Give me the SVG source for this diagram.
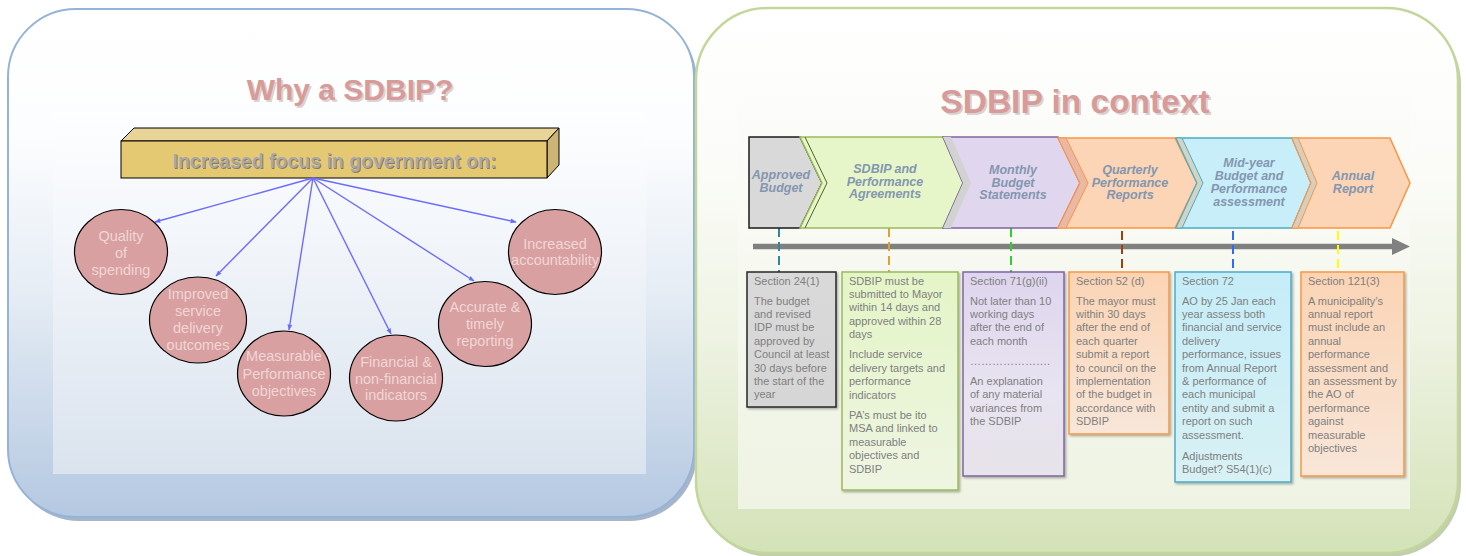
<svg xmlns="http://www.w3.org/2000/svg" width="1466" height="556" viewBox="0 0 1466 556">
<defs>
<linearGradient id="gLP" x1="0" y1="0" x2="0" y2="1"><stop offset="0" stop-color="#ffffff"/><stop offset="0.25" stop-color="#fcfdfe"/><stop offset="0.55" stop-color="#e6edf5"/><stop offset="1" stop-color="#b4c8e1"/></linearGradient>
<linearGradient id="gLI" x1="0" y1="0" x2="0" y2="1"><stop offset="0" stop-color="#fdfeff"/><stop offset="0.3" stop-color="#f4f7fb"/><stop offset="1" stop-color="#dae3ee"/></linearGradient>
<linearGradient id="gRP" x1="0" y1="0" x2="0" y2="1"><stop offset="0" stop-color="#ffffff"/><stop offset="0.3" stop-color="#fbfcf8"/><stop offset="0.6" stop-color="#eef3e3"/><stop offset="1" stop-color="#d4e2b7"/></linearGradient>
<linearGradient id="gRI" x1="0" y1="0" x2="0" y2="1"><stop offset="0" stop-color="#fcfdfa" stop-opacity="0"/><stop offset="0.15" stop-color="#fbfcf8"/><stop offset="1" stop-color="#eef3e3"/></linearGradient>
<linearGradient id="gB1" x1="0" y1="0" x2="0" y2="1"><stop offset="0" stop-color="#d9d9d9"/><stop offset="1" stop-color="#d6d6d6"/></linearGradient>
<linearGradient id="gB2" x1="0" y1="0" x2="0" y2="1"><stop offset="0" stop-color="#e4f5c6"/><stop offset="1" stop-color="#eef5e2"/></linearGradient>
<linearGradient id="gB3" x1="0" y1="0" x2="0" y2="1"><stop offset="0" stop-color="#ded5ee"/><stop offset="0.6" stop-color="#e8e4f0"/><stop offset="1" stop-color="#e6e3ea"/></linearGradient>
<linearGradient id="gB4" x1="0" y1="0" x2="0" y2="1"><stop offset="0" stop-color="#fbd4b4"/><stop offset="1" stop-color="#f8e6d8"/></linearGradient>
<linearGradient id="gB5" x1="0" y1="0" x2="0" y2="1"><stop offset="0" stop-color="#c5edf8"/><stop offset="1" stop-color="#d8f1f4"/></linearGradient>
<filter id="sh" x="-10%" y="-10%" width="130%" height="130%"><feDropShadow dx="1.5" dy="1.5" stdDeviation="1" flood-color="#000" flood-opacity="0.3"/></filter>
<marker id="ah" viewBox="0 0 10 10" refX="9" refY="5" markerWidth="6" markerHeight="6" orient="auto" markerUnits="userSpaceOnUse"><path d="M0,1 L10,5 L0,9 z" fill="#6b6bff"/></marker>
<style>
.ell{fill:#d8a0a0;stroke:#000;stroke-width:1.2}
.ct{font-family:"Liberation Sans",Arial,sans-serif;font-size:14.5px;fill:#f0d6d6;text-anchor:middle}
.arr{stroke:#6b6bff;stroke-width:1.4;fill:none;marker-end:url(#ah)}
.title{font-family:"Liberation Sans",Arial,sans-serif;font-weight:bold;fill:#d79b99;text-anchor:middle}
.tsh{font-family:"Liberation Sans",Arial,sans-serif;font-weight:bold;fill:#b0a0a0;opacity:0.45;text-anchor:middle}
.cv{font-family:"Liberation Sans",Arial,sans-serif;font-weight:bold;font-style:italic;font-size:12.5px;fill:#8496b0;text-anchor:middle}
.bt{font-family:"Liberation Sans",Arial,sans-serif;font-size:11px;fill:#7f7f7f}
.dash{stroke-width:2;stroke-dasharray:9 5;fill:none}
</style>
</defs>

<!-- Left panel -->
<g id="left-panel">
<rect x="11" y="13" width="686" height="508" rx="68" fill="#8195b0" opacity="0.7"/>
<rect x="8" y="9" width="686" height="508" rx="68" fill="url(#gLP)" stroke="#95b3d7" stroke-width="2"/>
<rect x="53" y="112" width="593" height="362" fill="url(#gLI)"/>
<text class="tsh" x="352" y="102" font-size="30">Why a SDBIP?</text>
<text class="title" x="350" y="100" font-size="30">Why a SDBIP?</text>
</g>

<g id="focus-bar">
<polygon points="121,141 134,128 559,128 547,141" fill="#e8d496" stroke="#000" stroke-width="1"/>
<polygon points="547,141 559,128 559,165 547,178" fill="#ccb574" stroke="#000" stroke-width="1"/>
<rect x="121" y="141" width="426" height="37" fill="#e5c872" stroke="#000" stroke-width="1"/>
<text x="335.5" y="168.5" text-anchor="middle" font-family="Liberation Sans, Arial, sans-serif" font-weight="bold" font-size="19.5" fill="#4a4a4a" opacity="0.6">Increased focus in government on:</text>
<text x="334.5" y="167.5" text-anchor="middle" font-family="Liberation Sans, Arial, sans-serif" font-weight="bold" font-size="19.5" fill="#a8a8a8">Increased focus in government on:</text>
</g>

<g id="connectors-left">
<line class="arr" x1="313" y1="178" x2="155" y2="222"/>
<line class="arr" x1="313" y1="178" x2="216" y2="276"/>
<line class="arr" x1="313" y1="178" x2="289" y2="330"/>
<line class="arr" x1="313" y1="178" x2="391" y2="334"/>
<line class="arr" x1="313" y1="178" x2="474" y2="281"/>
<line class="arr" x1="313" y1="178" x2="516" y2="222"/>
</g>

<g id="n-quality"><ellipse class="ell" cx="121" cy="252" rx="46.5" ry="42.5"/>
<text class="ct" x="121" y="241">Quality</text><text class="ct" x="121" y="258">of</text><text class="ct" x="121" y="275">spending</text></g>
<g id="n-improved"><ellipse class="ell" cx="198" cy="320" rx="48.5" ry="43"/>
<text class="ct" x="198" y="299">Improved</text><text class="ct" x="198" y="316">service</text><text class="ct" x="198" y="333">delivery</text><text class="ct" x="198" y="350">outcomes</text></g>
<g id="n-measurable"><ellipse class="ell" cx="284" cy="373.5" rx="46.5" ry="42.5"/>
<text class="ct" x="284" y="361">Measurable</text><text class="ct" x="284" y="379">Performance</text><text class="ct" x="284" y="396">objectives</text></g>
<g id="n-financial"><ellipse class="ell" cx="396" cy="378" rx="46.5" ry="43"/>
<text class="ct" x="396" y="367">Financial &amp;</text><text class="ct" x="396" y="384">non-financial</text><text class="ct" x="396" y="400">indicators</text></g>
<g id="n-accurate"><ellipse class="ell" cx="485" cy="324" rx="46.5" ry="42.5"/>
<text class="ct" x="485" y="312">Accurate &amp;</text><text class="ct" x="485" y="329">timely</text><text class="ct" x="485" y="346">reporting</text></g>
<g id="n-accountability"><ellipse class="ell" cx="555" cy="252" rx="46.5" ry="42.5"/>
<text class="ct" x="555" y="249">Increased</text><text class="ct" x="555" y="265">accountability</text></g>

<!-- Right panel -->
<g id="right-panel">
<rect x="699" y="12" width="762" height="545" rx="72" fill="#a8b98c" opacity="0.7"/>
<rect x="696" y="8" width="762" height="545" rx="72" fill="url(#gRP)" stroke="#c3d69b" stroke-width="2.5"/>
<rect x="738" y="76" width="672" height="433" fill="url(#gRI)"/>
<text class="tsh" x="1077" y="115" font-size="33.5">SDBIP in context</text>
<text class="title" x="1075" y="113" font-size="33.5">SDBIP in context</text>
</g>

<g id="timeline">
<line x1="753" y1="246.5" x2="1395" y2="246.5" stroke="#808080" stroke-width="5.5"/>
<polygon points="1392,238 1410,246.5 1392,255" fill="#808080"/>
</g>

<g id="connectors-right">
<line class="dash" x1="779" y1="228" x2="779" y2="272" stroke="#31859c"/>
<line class="dash" x1="889" y1="228" x2="889" y2="272" stroke="#e0a030"/>
<line class="dash" x1="1011" y1="228" x2="1011" y2="272" stroke="#33cc33"/>
<line class="dash" x1="1122" y1="231" x2="1122" y2="272" stroke="#a0410d"/>
<line class="dash" x1="1233" y1="231" x2="1233" y2="272" stroke="#2a6cff"/>
<line class="dash" x1="1338" y1="231" x2="1338" y2="272" stroke="#ffff00"/>
</g>

<g id="chev-approved">
<polygon points="749,137 800,137 822,183 800,228 749,228" fill="#d9d9d9" stroke="#1a1a1a" stroke-width="1.5"/>
<text class="cv" x="781" y="179">Approved</text><text class="cv" x="781" y="191.5">Budget</text>
</g>
<g id="chev-sdbip">
<polygon points="800,137 943,137 963,183 943,228 800,228 822,183" fill="#e6f6c9" stroke="#9bbb59" stroke-width="1.5"/>
<polyline points="805,137 827,183 805,228" fill="none" stroke="#4f6228" stroke-width="1"/>
<text class="cv" x="885" y="172.5">SDBIP and</text><text class="cv" x="885" y="185.5">Performance</text><text class="cv" x="885" y="198">Agreements</text>
</g>
<g id="chev-monthly">
<polygon points="943,137 1058,137 1080,183 1058,228 943,228 963,183" fill="#e0d7ee" stroke="#8064a2" stroke-width="1.5"/>
<polygon points="943,137 951,137 971,183 951,228 943,228 963,183" fill="#d2d2d2"/>
<text class="cv" x="1013" y="174">Monthly</text><text class="cv" x="1013" y="186.5">Budget</text><text class="cv" x="1013" y="199">Statements</text>
</g>
<g id="chev-quarterly">
<polygon points="1058,138 1175,138 1197,183 1175,228 1058,228 1080,183" fill="#fbd5b5" stroke="#f79646" stroke-width="1.5"/>
<polygon points="1058,138 1066,138 1088,183 1066,228 1058,228 1080,183" fill="#e9b9a5" stroke="#f79646" stroke-width="1"/>
<text class="cv" x="1130" y="174">Quarterly</text><text class="cv" x="1130" y="186.5">Performance</text><text class="cv" x="1130" y="199">Reports</text>
</g>
<g id="chev-midyear">
<polygon points="1176,138 1292,138 1311,183 1292,228 1176,228 1197,183" fill="#c8eef9" stroke="#4bacc6" stroke-width="1.5"/>
<polygon points="1176,138 1182,138 1203,183 1182,228 1176,228 1197,183" fill="#d4d4c4" stroke="#4bacc6" stroke-width="1"/>
<text class="cv" x="1249" y="166.5">Mid-year</text><text class="cv" x="1249" y="179.5">Budget and</text><text class="cv" x="1249" y="192.5">Performance</text><text class="cv" x="1249" y="205.5">assessment</text>
</g>
<g id="chev-annual">
<polygon points="1292,138 1390,138 1410,183 1390,228 1292,228 1311,183" fill="#fbd5b5" stroke="#f79646" stroke-width="1.5"/>
<polygon points="1292,138 1298,138 1317,183 1298,228 1292,228 1311,183" fill="#d5cfc0" stroke="#f79646" stroke-width="1"/>
<text class="cv" x="1353" y="180">Annual</text><text class="cv" x="1353" y="193">Report</text>
</g>

<g id="box-s24">
<rect x="747" y="272" width="89" height="135" fill="url(#gB1)" stroke="#262626" stroke-width="1.5" filter="url(#sh)"/>
<text class="bt" x="754" y="285">Section 24(1)</text>
<text class="bt" x="754" y="304.5">The budget</text><text class="bt" x="754" y="317.9">and revised</text><text class="bt" x="754" y="331.3">IDP must be</text><text class="bt" x="754" y="344.7">approved by</text><text class="bt" x="754" y="358.1">Council at least</text><text class="bt" x="754" y="371.5">30 days before</text><text class="bt" x="754" y="384.9">the start of the</text><text class="bt" x="754" y="398.3">year</text>
</g>
<g id="box-sdbip">
<rect x="842" y="272" width="116" height="218" fill="url(#gB2)" stroke="#9bbb59" stroke-width="1.5" filter="url(#sh)"/>
<text class="bt" x="849" y="284.5">SDBIP must be</text><text class="bt" x="849" y="297.9">submitted to Mayor</text><text class="bt" x="849" y="311.3">within 14 days and</text><text class="bt" x="849" y="324.7">approved within 28</text><text class="bt" x="849" y="338.1">days</text>
<text class="bt" x="849" y="358.3">Include service</text><text class="bt" x="849" y="371.7">delivery targets and</text><text class="bt" x="849" y="385.1">performance</text><text class="bt" x="849" y="398.5">indicators</text>
<text class="bt" x="849" y="419">PA’s must be ito</text><text class="bt" x="849" y="432.4">MSA and linked to</text><text class="bt" x="849" y="445.8">measurable</text><text class="bt" x="849" y="459.2">objectives and</text><text class="bt" x="849" y="472.6">SDBIP</text>
</g>
<g id="box-s71">
<rect x="963" y="272" width="101" height="204" fill="url(#gB3)" stroke="#8064a2" stroke-width="1.5" filter="url(#sh)"/>
<text class="bt" x="970" y="285">Section 71(g)(ii)</text>
<text class="bt" x="970" y="304.5">Not later than 10</text><text class="bt" x="970" y="317.9">working days</text><text class="bt" x="970" y="331.3">after the end of</text><text class="bt" x="970" y="344.7">each month</text>
<text class="bt" x="970" y="365" font-size="9">………………….</text>
<text class="bt" x="970" y="385">An explanation</text><text class="bt" x="970" y="398.4">of any material</text><text class="bt" x="970" y="411.8">variances from</text><text class="bt" x="970" y="425.2">the SDBIP</text>
</g>
<g id="box-s52">
<rect x="1069" y="272" width="100" height="162" fill="url(#gB4)" stroke="#f79646" stroke-width="1.5" filter="url(#sh)"/>
<text class="bt" x="1076" y="285">Section 52 (d)</text>
<text class="bt" x="1076" y="304.5">The mayor must</text><text class="bt" x="1076" y="317.9">within 30 days</text><text class="bt" x="1076" y="331.3">after the end of</text><text class="bt" x="1076" y="344.7">each quarter</text><text class="bt" x="1076" y="358.1">submit a report</text><text class="bt" x="1076" y="371.5">to council on the</text><text class="bt" x="1076" y="384.9">implementation</text><text class="bt" x="1076" y="398.3">of the budget in</text><text class="bt" x="1076" y="411.7">accordance with</text><text class="bt" x="1076" y="425.1">SDBIP</text>
</g>
<g id="box-s72">
<rect x="1175" y="272" width="116" height="210" fill="url(#gB5)" stroke="#4bacc6" stroke-width="1.5" filter="url(#sh)"/>
<text class="bt" x="1182" y="285">Section 72</text>
<text class="bt" x="1182" y="304.5">AO by 25 Jan each</text><text class="bt" x="1182" y="317.9">year assess both</text><text class="bt" x="1182" y="331.3">financial and service</text><text class="bt" x="1182" y="344.7">delivery</text><text class="bt" x="1182" y="358.1">performance, issues</text><text class="bt" x="1182" y="371.5">from Annual Report</text><text class="bt" x="1182" y="384.9">&amp; performance of</text><text class="bt" x="1182" y="398.3">each municipal</text><text class="bt" x="1182" y="411.7">entity and submit a</text><text class="bt" x="1182" y="425.1">report on such</text><text class="bt" x="1182" y="438.5">assessment.</text>
<text class="bt" x="1182" y="460">Adjustments</text><text class="bt" x="1182" y="473.4">Budget? S54(1)(c)</text>
</g>
<g id="box-s121">
<rect x="1301" y="272" width="103" height="204" fill="url(#gB4)" stroke="#f79646" stroke-width="1.5" filter="url(#sh)"/>
<text class="bt" x="1308" y="285">Section 121(3)</text>
<text class="bt" x="1308" y="304.5">A municipality’s</text><text class="bt" x="1308" y="317.9">annual report</text><text class="bt" x="1308" y="331.3">must include an</text><text class="bt" x="1308" y="344.7">annual</text><text class="bt" x="1308" y="358.1">performance</text><text class="bt" x="1308" y="371.5">assessment and</text><text class="bt" x="1308" y="384.9">an assessment by</text><text class="bt" x="1308" y="398.3">the AO of</text><text class="bt" x="1308" y="411.7">performance</text><text class="bt" x="1308" y="425.1">against</text><text class="bt" x="1308" y="438.5">measurable</text><text class="bt" x="1308" y="451.9">objectives</text>
</g>
</svg>
